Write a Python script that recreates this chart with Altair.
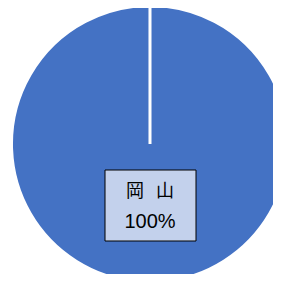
import altair as alt
import pandas as pd

categories = ["岡山"]
values = [100]
pct_labels = ["100%"]

df = pd.DataFrame({
    "category": categories,
    "value": values,
    "pct": pct_labels,
    "label": ["\u2002\u2006".join(c) for c in categories],
})

base = alt.Chart(df)

pie = base.mark_arc(radius=138.5, stroke="white", strokeWidth=3, color="#4472C4").encode(
    theta=alt.Theta("value:Q", stack=True, scale=alt.Scale(range=[0, 6.2830])),
    x=alt.value(142),
    y=alt.value(136),
)

box = base.mark_rect(fill="#c3d1ec", stroke="black", strokeWidth=1).encode(
    x=alt.value(97), x2=alt.value(188), y=alt.value(162), y2=alt.value(233)
)

t1 = base.mark_text(font="Noto Sans CJK JP", fontSize=18, baseline="middle", align="center", color="black").encode(
    text="label:N", x=alt.value(142), y=alt.value(184)
)

t2 = base.mark_text(font="Liberation Sans Narrow, Liberation Sans", fontSize=20, baseline="alphabetic", align="center", color="black").encode(
    text="pct:N", x=alt.value(142), y=alt.value(220)
)

chart = alt.layer(pie, box, t1, t2).properties(
    width=265, height=266, padding=0, autosize="none", background="white"
).configure_view(stroke=None)

chart.save("out.html", embed_options={"renderer": "svg", "actions": False})
